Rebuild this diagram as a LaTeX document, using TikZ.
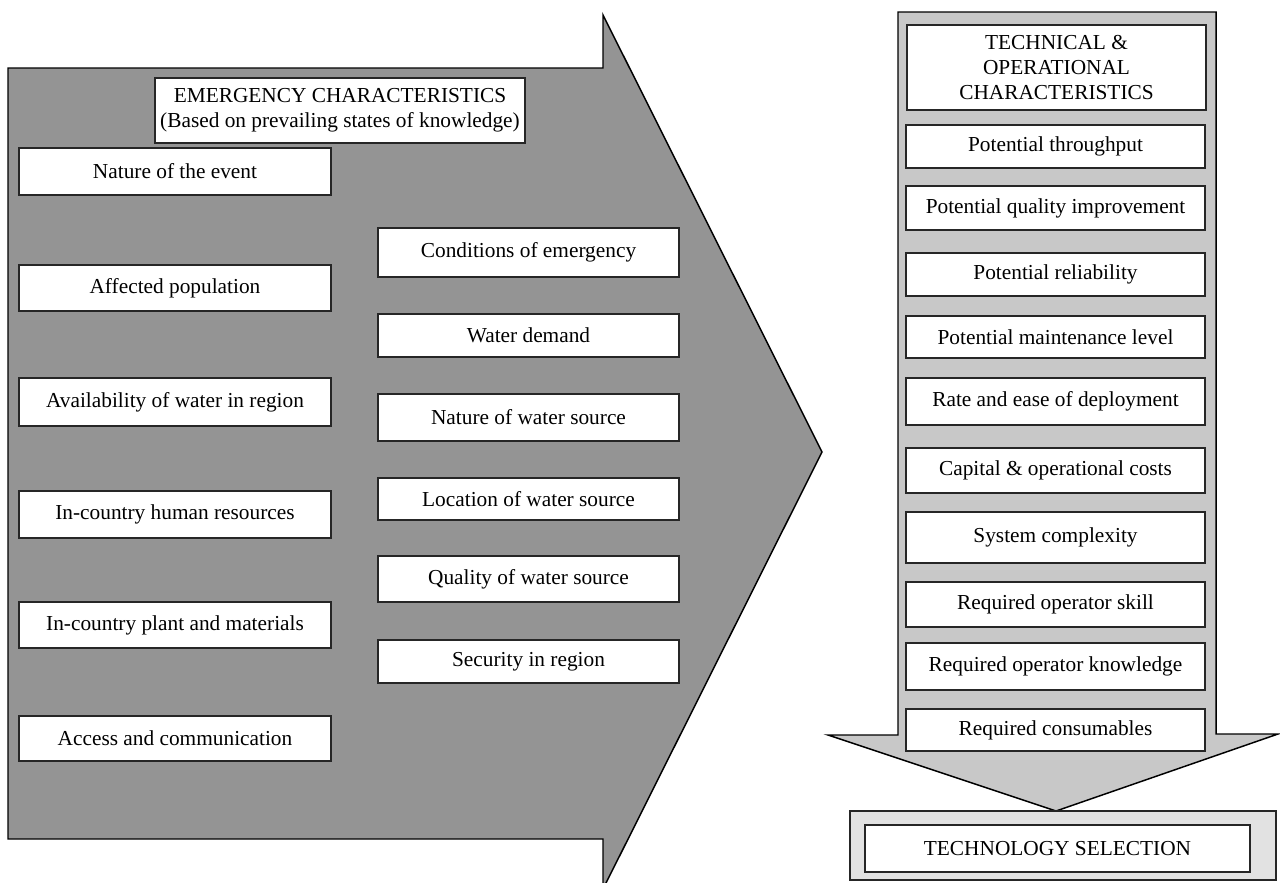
\documentclass[tikz,border=0pt]{standalone}
\usepackage{fontspec}
\setmainfont{Liberation Serif}
\definecolor{arrowgray}{RGB}{148,148,148}
\definecolor{shaftgray}{RGB}{200,200,200}
\definecolor{selgray}{RGB}{226,226,226}
\newcommand\bx[6]{\node[box, minimum width={(#4-#2)*0.75pt}, minimum height={(#5-#3)*0.75pt}] (#1) at ({(#2+#4)/2},{(#3+#5)/2}) {#6};}
\begin{document}
\begin{tikzpicture}[x=0.75pt,y=-0.75pt,
  box/.style={draw=black!85, line width=0.9pt, fill=white, inner sep=0pt, align=center, font=\fontsize{16}{19}\selectfont},
  arrowshape/.style={draw=black, line width=1.1pt, line join=miter}]
\useasboundingbox (0,0) rectangle (1280,882);
\clip (0,0) rectangle (1280,882);
% big right arrow
\draw[arrowshape, fill=arrowgray] (8,68) -- (603,68) -- (603,15) -- (822,452) -- (603,889) -- (603,839) -- (8,839) -- cycle;
% down arrow
\draw[arrowshape, fill=shaftgray] (898,12) -- (1216,12) -- (1216,734) -- (1278,734) -- (1056,811) -- (828,735) -- (898,735) -- cycle;
% selection box
\node[draw=black!85, line width=0.9pt, fill=selgray, minimum width={(1276-850)*0.75pt}, minimum height={(880-811)*0.75pt}, inner sep=0pt] (selouter) at ({(850+1276)/2},{(811+880)/2}) {};
\bx{sel}{865}{825}{1250}{872}{TECHNOLOGY SELECTION}
% left header
\bx{emh}{155}{78}{525}{143}{EMERGENCY CHARACTERISTICS\\(Based on prevailing states of knowledge)}
% left column
\bx{l1}{19}{148}{331}{195}{Nature of the event}
\bx{l2}{19}{265}{331}{311}{Affected population}
\bx{l3}{19}{378}{331}{426}{Availability of water in region}
\bx{l4}{19}{491}{331}{538}{In-country human resources}
\bx{l5}{19}{602}{331}{648}{In-country plant and materials}
\bx{l6}{19}{716}{331}{761}{Access and communication}
% middle column
\bx{m1}{378}{228}{679}{277}{Conditions of emergency}
\bx{m2}{378}{314}{679}{357}{Water demand}
\bx{m3}{378}{394}{679}{441}{Nature of water source}
\bx{m4}{378}{478}{679}{520}{Location of water source}
\bx{m5}{378}{556}{679}{602}{Quality of water source}
\bx{m6}{378}{640}{679}{683}{Security in region}
% right header
\bx{th}{907}{25}{1206}{110}{TECHNICAL \&\\OPERATIONAL\\CHARACTERISTICS}
% right column
\bx{r1}{906}{125}{1205}{168}{Potential throughput}
\bx{r2}{906}{186}{1205}{230}{Potential quality improvement}
\bx{r3}{906}{253}{1205}{296}{Potential reliability}
\bx{r4}{906}{316}{1205}{358}{Potential maintenance level}
\bx{r5}{906}{378}{1205}{425}{Rate and ease of deployment}
\bx{r6}{906}{448}{1205}{493}{Capital \& operational costs}
\bx{r7}{906}{512}{1205}{563}{System complexity}
\bx{r8}{906}{582}{1205}{627}{Required operator skill}
\bx{r9}{906}{643}{1205}{690}{Required operator knowledge}
\bx{r10}{906}{709}{1205}{751}{Required consumables}
\end{tikzpicture}
\end{document}
